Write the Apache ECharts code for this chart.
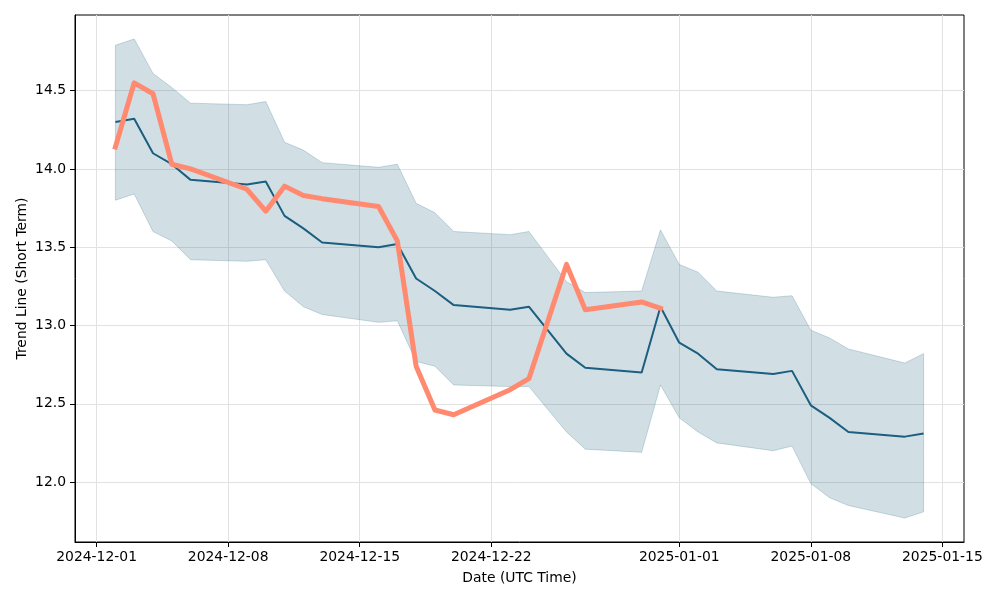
<!DOCTYPE html>
<html>
<head>
<meta charset="utf-8">
<script src="https://cdn.jsdelivr.net/npm/echarts@6/dist/echarts.min.js"></script>
<style>html,body{margin:0;padding:0;background:#fff}#c{width:1000px;height:600px}</style>
</head>
<body>
<div id="c"></div>
<script>
const dates = ['2024-12-02','2024-12-03','2024-12-04','2024-12-05','2024-12-06','2024-12-09','2024-12-10','2024-12-11','2024-12-12','2024-12-13','2024-12-16','2024-12-17','2024-12-18','2024-12-19','2024-12-20','2024-12-23','2024-12-24','2024-12-26','2024-12-27','2024-12-30','2024-12-31','2025-01-01','2025-01-02','2025-01-03','2025-01-06','2025-01-07','2025-01-08','2025-01-09','2025-01-10','2025-01-13','2025-01-14'];
const trend = [14.30,14.32,14.10,14.03,13.93,13.90,13.92,13.70,13.62,13.53,13.50,13.52,13.30,13.22,13.13,13.10,13.12,12.82,12.73,12.70,13.12,12.89,12.82,12.72,12.69,12.71,12.49,12.41,12.32,12.29,12.31];
const upper = [14.79,14.83,14.61,14.52,14.42,14.41,14.43,14.17,14.12,14.04,14.01,14.03,13.78,13.72,13.60,13.58,13.60,13.28,13.21,13.22,13.61,13.39,13.34,13.22,13.18,13.19,12.97,12.92,12.85,12.76,12.82];
const lower = [13.80,13.84,13.60,13.54,13.42,13.41,13.42,13.22,13.12,13.07,13.02,13.03,12.77,12.74,12.62,12.61,12.61,12.32,12.21,12.19,12.62,12.41,12.32,12.25,12.20,12.23,11.99,11.90,11.85,11.77,11.81];
const price = [14.14,14.55,14.48,14.03,14.00,13.87,13.73,13.89,13.83,13.81,13.76,13.54,12.74,12.46,12.43,12.59,12.66,13.39,13.10,13.15,13.11];
const xTickLabels = ['2024-12-01','2024-12-08','2024-12-15','2024-12-22','2025-01-01','2025-01-08','2025-01-15'];
const yTickLabels = [12.0,12.5,13.0,13.5,14.0,14.5];

const ts = s => { const p = s.split('-').map(Number); return Date.UTC(p[0], p[1]-1, p[2]); };
const T = dates.map(ts);
const xTicks = xTickLabels.map(ts);
const pad = v => (v < 10 ? '0' : '') + v;
const fmt = v => { const d = new Date(v); return d.getUTCFullYear() + '-' + pad(d.getUTCMonth()+1) + '-' + pad(d.getUTCDate()); };

const span = T[T.length-1] - T[0];
const xMin = T[0] - span*0.05, xMax = T[T.length-1] + span*0.05;
const yLo = Math.min(...lower), yHi = Math.max(...upper);
const yMin = yLo - (yHi-yLo)*0.05, yMax = yHi + (yHi-yLo)*0.05;

const font = {fontFamily: 'DejaVu Sans', fontSize: 13.9, color: '#000'};
const bandEdge = 'rgba(27,94,127,0.22)';
const gridColor = '#e2e2e2';

const chart = echarts.init(document.getElementById('c'));
chart.setOption({
  animation: false,
  backgroundColor: '#fff',
  grid: {left: 75, right: 36, top: 15, bottom: 58, show: true, borderColor: '#000', borderWidth: 1, backgroundColor: 'transparent'},
  xAxis: {
    type: 'value', min: xMin, max: xMax, scale: true,
    name: 'Date (UTC Time)', nameLocation: 'middle', nameGap: 29, nameTextStyle: font,
    axisLine: {show: true, onZero: false, lineStyle: {color: '#000', width: 1}},
    axisTick: {show: true, length: 5, lineStyle: {color: '#000'}, customValues: xTicks},
    axisLabel: Object.assign({margin: 8, customValues: xTicks, formatter: v => fmt(v)}, font),
    splitLine: {show: true, lineStyle: {color: gridColor, width: 1}}
  },
  yAxis: {
    type: 'value', min: yMin, max: yMax, scale: true,
    name: 'Trend Line (Short Term)', nameLocation: 'middle', nameGap: 46, nameRotate: 90, nameMoveOverlap: false, nameTextStyle: font,
    axisLine: {show: true, onZero: false, lineStyle: {color: '#000', width: 1}},
    axisTick: {show: true, length: 5, lineStyle: {color: '#000'}, customValues: yTickLabels},
    axisLabel: Object.assign({margin: 9, customValues: yTickLabels, formatter: v => v.toFixed(1)}, font),
    splitLine: {show: true, lineStyle: {color: gridColor, width: 1}}
  },
  series: [
    {type: 'custom', name: 'band', z: 1, clip: true,
     data: T.map((t,i) => [t, lower[i], upper[i]]),
     encode: {x: 0, y: [1, 2]},
     renderItem: (params, api) => {
       if (params.dataIndex !== 0) return null;
       const top = T.map((t,i) => api.coord([t, upper[i]]));
       const bot = T.map((t,i) => api.coord([t, lower[i]])).reverse();
       return {type: 'polygon', shape: {points: top.concat(bot)},
               style: {fill: 'rgba(27,94,127,0.2)', stroke: bandEdge, lineWidth: 1}};
     }},
    {type: 'line', name: 'trend', symbol: 'none', z: 3,
     data: T.map((t,i) => [t, trend[i]]),
     lineStyle: {color: '#1b5e7f', width: 2}},
    {type: 'line', name: 'price', symbol: 'none', z: 4,
     data: price.map((v,i) => [T[i], v]),
     lineStyle: {color: '#ff8a70', width: 5, cap: 'square', join: 'round'}}
  ]
});
</script>
</body>
</html>
